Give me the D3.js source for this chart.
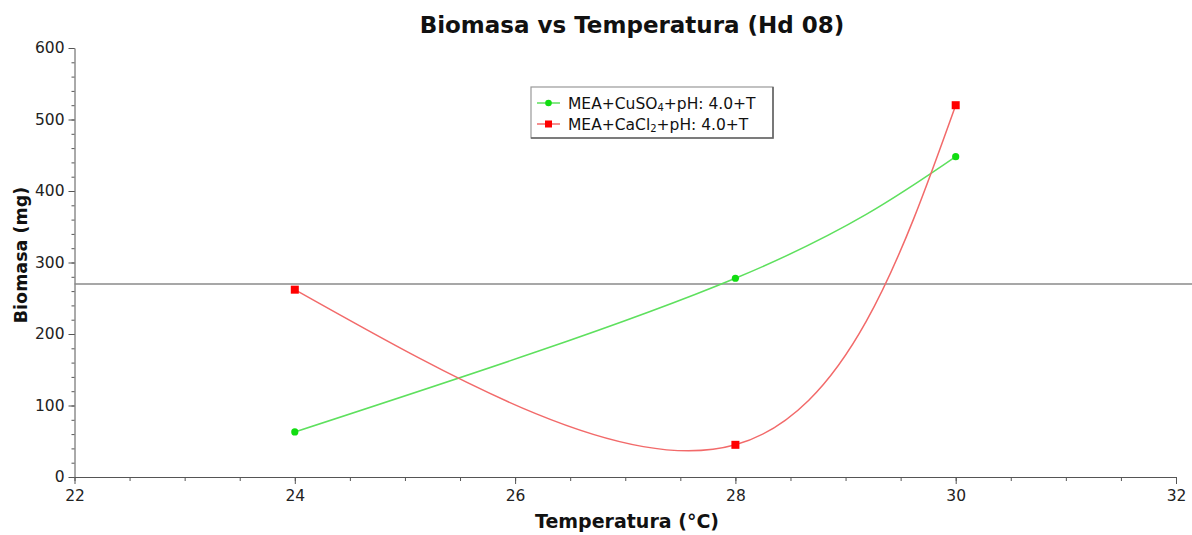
<!DOCTYPE html>
<html><head><meta charset="utf-8">
<script src="https://cdn.jsdelivr.net/npm/d3@7"></script>
<style>body{margin:0;background:#fff}svg{display:block}text{font-family:"DejaVu Sans",Verdana,sans-serif}</style>
</head><body>
<svg id="c" width="1192" height="535"></svg>
<script>
const temps = [24, 28, 30];
const cuso4 = [63, 278, 448];
const cacl2 = [262, 45, 520];
const refLine = 270;
const xTicks = [22, 24, 26, 28, 30, 32];
const yTicks = [0, 100, 200, 300, 400, 500, 600];
const seriesNames = ["MEA+CuSO|4|+pH: 4.0+T", "MEA+CaCl|2|+pH: 4.0+T"];

const svg = d3.select("#c");
const L = 74.5, R = 1176, T = 48, B = 477;
const x = d3.scaleLinear().domain([22, 32]).range([L, R]);
const y = d3.scaleLinear().domain([0, 600]).range([B, T]);

// title
svg.append("text").attr("x", 632).attr("y", 33).attr("text-anchor", "middle")
  .attr("font-weight", "bold").attr("font-size", 23).attr("fill", "#111")
  .text("Biomasa vs Temperatura (Hd 08)");

// axes
const xMinor = d3.range(22, 32.01, 0.5);
const yMinor = d3.range(0, 600.1, 20);
const gx = svg.append("g").attr("transform", `translate(0,${B})`);
gx.call(d3.axisBottom(x).tickValues(xMinor).tickSize(4).tickFormat(""));
gx.call(g => g.select(".domain").remove());
const gx2 = svg.append("g").attr("transform", `translate(0,${B})`);
gx2.call(d3.axisBottom(x).tickValues(xTicks).tickSize(7).tickPadding(6).tickFormat(d3.format("d")).tickSizeOuter(0));
gx2.selectAll("text").attr("font-size", 15.5).attr("fill", "#222");

const gy = svg.append("g").attr("transform", `translate(${L},0)`);
gy.call(d3.axisLeft(y).tickValues(yMinor).tickSize(3).tickFormat(""));
gy.call(g => g.select(".domain").remove());
const gy2 = svg.append("g").attr("transform", `translate(${L},0)`);
gy2.call(d3.axisLeft(y).tickValues(yTicks).tickSize(6).tickPadding(4).tickFormat(d3.format("d")).tickSizeOuter(0));
gy2.selectAll("text").attr("font-size", 15.5).attr("fill", "#222");
svg.selectAll(".domain, .tick line").attr("stroke", "#555");

// axis titles
svg.append("text").attr("x", 627).attr("y", 528).attr("text-anchor", "middle")
  .attr("font-weight", "bold").attr("font-size", 19).attr("fill", "#111").text("Temperatura (°C)");
svg.append("text").attr("transform", "translate(27,255) rotate(-90)").attr("text-anchor", "middle")
  .attr("font-weight", "bold").attr("font-size", 17.5).attr("fill", "#111").text("Biomasa (mg)");

// reference line
svg.append("line").attr("x1", L).attr("x2", 1192).attr("y1", y(refLine)).attr("y2", y(refLine))
  .attr("stroke", "#8a8a8a").attr("stroke-width", 1.5);

const line = d3.line().x(d => x(d[0])).y(d => y(d[1])).curve(d3.curveNatural);
const green = temps.map((t, i) => [t, cuso4[i]]);
const red = temps.map((t, i) => [t, cacl2[i]]);

svg.append("path").attr("d", line(green)).attr("fill", "none").attr("stroke", "#5ee05e").attr("stroke-width", 1.5);
svg.append("path").attr("d", line(red)).attr("fill", "none").attr("stroke", "#f26a6a").attr("stroke-width", 1.5);

svg.selectAll(".gpt").data(green).join("circle").attr("class", "gpt")
  .attr("cx", d => x(d[0])).attr("cy", d => y(d[1])).attr("r", 3.6).attr("fill", "#11dd11");
svg.selectAll(".rpt").data(red).join("rect").attr("class", "rpt")
  .attr("x", d => x(d[0]) - 4).attr("y", d => y(d[1]) - 4).attr("width", 8).attr("height", 8).attr("fill", "#ff0000");

// legend
const lg = svg.append("g");
lg.append("rect").attr("x", 531).attr("y", 87).attr("width", 242).attr("height", 51)
  .attr("fill", "#fff").attr("stroke", "#999").attr("stroke-width", 1.2);
lg.append("path").attr("d", "M773,87V138H531").attr("fill", "none").attr("stroke", "#666").attr("stroke-width", 1.6);
const rows = [{c: "#5ee05e", m: "#11dd11", shape: "circle"}, {c: "#f26a6a", m: "#ff0000", shape: "rect"}];
rows.forEach((r, i) => {
  const yy = 103 + i * 21;
  lg.append("line").attr("x1", 537).attr("x2", 560).attr("y1", yy).attr("y2", yy).attr("stroke", r.c).attr("stroke-width", 1.5);
  if (r.shape === "circle") lg.append("circle").attr("cx", 548.5).attr("cy", yy).attr("r", 3.3).attr("fill", r.m);
  else lg.append("rect").attr("x", 545).attr("y", yy - 3.5).attr("width", 7).attr("height", 7).attr("fill", r.m);
  const parts = seriesNames[i].split("|");
  const t = lg.append("text").attr("x", 568).attr("y", yy + 6).attr("font-size", 15.5).attr("fill", "#111");
  t.append("tspan").text(parts[0]);
  t.append("tspan").attr("font-size", 10).attr("dy", 2).text(parts[1]);
  t.append("tspan").attr("dy", -2).text(parts[2]);
});
</script>
</body></html>
